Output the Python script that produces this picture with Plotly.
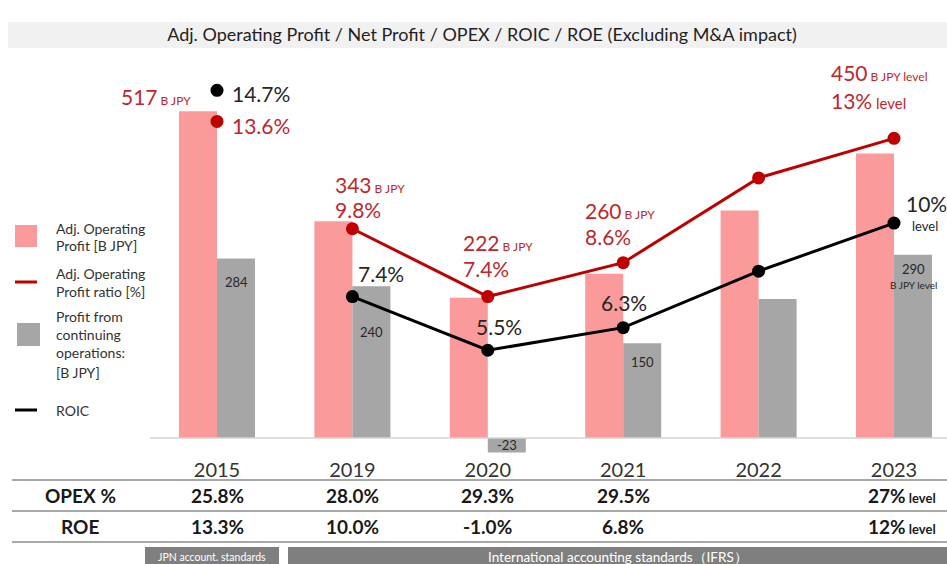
import plotly.graph_objects as go

# ---- data -------------------------------------------------------------
years = ["2015", "2019", "2020", "2021", "2022", "2023"]
adj_op_profit = [517, 343, 222, 260, 360, 450]          # B JPY
profit_continuing = [284, 240, -23, 150, 220, 290]      # B JPY
adj_op_ratio = [13.6, 9.8, 7.4, 8.6, 11.6, 13.0]        # %
roic = [14.7, 7.4, 5.5, 6.3, 8.3, 10.0]                 # %
opex_pct = ["25.8%", "28.0%", "29.3%", "29.5%", "", "27%"]
roe_pct = ["13.3%", "10.0%", "-1.0%", "6.8%", "", "12%"]
level_flags = [False, False, False, False, False, True]  # target-year values
on_trend = [False, True, True, True, True, True]         # 2015 sits apart (JPN GAAP)

# ---- styling ----------------------------------------------------------
W, H = 947, 564
ML, MR, MT, MB = 140, 0, 62, 108
PW, PH = W - ML - MR, H - MT - MB
FONT = "Lato"
PINK = "#fa9a9a"
GREY = "#a6a6a6"
RED = "#c00000"
RED_TXT = "#c0272d"
DARK = "#262626"
BIG = 21


def px(xp):
    """horizontal pixel -> paper coordinate"""
    return (xp - ML) / PW


def py(yp):
    """vertical pixel -> paper coordinate"""
    return (H - MB - yp) / PH


def split(vals):
    trend = [v if t else None for v, t in zip(vals, on_trend)]
    apart = [None if t else v for v, t in zip(vals, on_trend)]
    return trend, apart


fig = go.Figure()

fig.add_trace(go.Bar(x=years, y=adj_op_profit, marker_color=PINK,
                     marker_line_width=0, name="Adj. Operating Profit [B JPY]"))
fig.add_trace(go.Bar(x=years, y=profit_continuing, marker_color=GREY,
                     marker_line_width=0,
                     name="Profit from continuing operations: [B JPY]"))

for vals, col, nm in ((adj_op_ratio, RED, "Adj. Operating Profit ratio [%]"),
                      (roic, "black", "ROIC")):
    trend, apart = split(vals)
    fig.add_trace(go.Scatter(x=years, y=trend, yaxis="y2", mode="lines+markers",
                             line=dict(color=col, width=3), connectgaps=False,
                             marker=dict(color=col, size=13), name=nm))
    fig.add_trace(go.Scatter(x=years, y=apart, yaxis="y2", mode="markers",
                             marker=dict(color=col, size=13), name=nm,
                             showlegend=False))

ann = []
shapes = []


def small(t, size):
    return f"<span style='font-size:{size}px'>{t}</span>"


# operating profit value + ratio labels (x offset, value-line lift, ratio-line lift)
red_lab = {1: (-19, 44, 19), 2: (-27, 54, 28), 3: (-40, 52, 26), 5: (-65, 66, 38)}
for i, (v, r) in enumerate(zip(adj_op_profit, adj_op_ratio)):
    if i == 0:
        ann.append(dict(x=i, y=v, xref="x", yref="y", xshift=-24, yshift=15,
                        xanchor="right", yanchor="middle", showarrow=False,
                        text=f"{v}" + small(" B JPY", 12),
                        font=dict(size=BIG, color=RED_TXT)))
        ann.append(dict(x=i, y=r, xref="x", yref="y2", xshift=13, yshift=-4,
                        xanchor="left", yanchor="middle", showarrow=False,
                        text=f"{r:.1f}%", font=dict(size=BIG, color=RED_TXT)))
        continue
    if i not in red_lab:
        continue
    dx, dv, dr = red_lab[i]
    lvl = level_flags[i]
    vt = f"{v}" + small(" B JPY" + (" level" if lvl else ""), 12)
    rt = (f"{r:.0f}%" + small(" level", 15)) if lvl else f"{r:.1f}%"
    ann.append(dict(x=i, y=r, xref="x", yref="y2", xshift=dx, yshift=dv,
                    xanchor="left", yanchor="middle", showarrow=False,
                    text=vt, font=dict(size=BIG, color=RED_TXT)))
    ann.append(dict(x=i, y=r, xref="x", yref="y2", xshift=dx, yshift=dr,
                    xanchor="left", yanchor="middle", showarrow=False,
                    text=rt, font=dict(size=BIG, color=RED_TXT)))

# ROIC labels
ann.append(dict(x=0, y=roic[0], xref="x", yref="y2", xshift=13, yshift=-3,
                xanchor="left", yanchor="middle", showarrow=False,
                text=f"{roic[0]:.1f}%", font=dict(size=BIG, color=DARK)))
roic_off = {1: (29, 23), 2: (11, 24), 3: (1, 25)}
for i, (dx, dy) in roic_off.items():
    ann.append(dict(x=i, y=roic[i], xref="x", yref="y2", xshift=dx, yshift=dy,
                    xanchor="center", yanchor="middle", showarrow=False,
                    text=f"{roic[i]:.1f}%", font=dict(size=BIG, color=DARK)))
ann.append(dict(x=5, y=roic[5], xref="x", yref="y2", xshift=10, yshift=20,
                xanchor="left", yanchor="middle", showarrow=False,
                text=f"{roic[5]:.0f}%", font=dict(size=BIG, color=DARK)))
ann.append(dict(x=5, y=roic[5], xref="x", yref="y2", xshift=31, yshift=-3,
                xanchor="center", yanchor="middle", showarrow=False,
                text="level", font=dict(size=13, color=DARK)))

# profit-from-continuing-operations labels inside the grey bars
grey_dy = {0: -23, 1: -46, 2: 8, 3: -19, 5: -14}
for i, dy in grey_dy.items():
    v = profit_continuing[i]
    ann.append(dict(x=i, y=v, xref="x", yref="y", xshift=19, yshift=dy,
                    xanchor="center", yanchor="middle", showarrow=False,
                    text=f"{v}", font=dict(size=13, color=DARK)))
ann.append(dict(x=5, y=profit_continuing[5], xref="x", yref="y", xshift=19,
                yshift=-30, xanchor="center", yanchor="middle", showarrow=False,
                text="B JPY level", font=dict(size=10, color=DARK)))

# zero line of the bar axis
shapes.append(dict(type="line", xref="paper", yref="y", x0=px(150), x1=1,
                   y0=0, y1=0, line=dict(color="#d4d4d4", width=1.5)))

# title band
shapes.append(dict(type="rect", xref="paper", yref="paper", x0=px(8), x1=px(947),
                   y0=py(48), y1=py(22), fillcolor="#f1f1f1", line_width=0,
                   layer="below"))

# legend
leg_txt = dict(size=14, color="#333333")
shapes.append(dict(type="rect", xref="paper", yref="paper", x0=px(15), x1=px(37),
                   y0=py(247), y1=py(225), fillcolor=PINK, line_width=0))
shapes.append(dict(type="line", xref="paper", yref="paper", x0=px(15), x1=px(37),
                   y0=py(282), y1=py(282), line=dict(color=RED, width=3)))
shapes.append(dict(type="rect", xref="paper", yref="paper", x0=px(17), x1=px(40),
                   y0=py(346), y1=py(323), fillcolor=GREY, line_width=0))
shapes.append(dict(type="line", xref="paper", yref="paper", x0=px(15), x1=px(37),
                   y0=py(410), y1=py(410), line=dict(color="black", width=3)))
legend_rows = [
    (228, "Adj. Operating"), (245, "Profit [B JPY]"),
    (273, "Adj. Operating"), (291, "Profit ratio [%]"),
    (316, "Profit from"), (334, "continuing"), (352, "operations:"),
    (372, "[B JPY]"), (410, "ROIC"),
]
for yy, t in legend_rows:
    ann.append(dict(x=px(54), y=py(yy), xref="paper", yref="paper",
                    xanchor="left", yanchor="middle", showarrow=False,
                    text=t, font=leg_txt))

# table under the chart
for yy in (480, 511, 542):
    shapes.append(dict(type="line", xref="paper", yref="paper", x0=px(12), x1=1,
                       y0=py(yy), y1=py(yy), line=dict(color="#a9a9a9", width=2)))
tbl_font = dict(size=19, color="#1a1a1a")
for yy, lab, vals in ((495, "OPEX %", opex_pct), (526, "ROE", roe_pct)):
    ann.append(dict(x=px(80), y=py(yy), xref="paper", yref="paper",
                    xanchor="center", yanchor="middle", showarrow=False,
                    text=f"<b>{lab}</b>", font=tbl_font))
    for i, v in enumerate(vals):
        if not v:
            continue
        t = f"<b>{v}</b>" + (small("<b> level</b>", 13) if level_flags[i] else "")
        ann.append(dict(x=i, y=py(yy), xref="x", yref="paper",
                        xanchor="center", yanchor="middle", showarrow=False,
                        xshift=8 if level_flags[i] else 0,
                        text=t, font=tbl_font))

# accounting-standard bands
shapes.append(dict(type="rect", xref="paper", yref="paper", x0=px(145), x1=px(279),
                   y0=py(566), y1=py(547), fillcolor="#7f7f7f", line_width=0))
shapes.append(dict(type="rect", xref="paper", yref="paper", x0=px(288), x1=1,
                   y0=py(566), y1=py(547), fillcolor="#7f7f7f", line_width=0))
ann.append(dict(x=px(212), y=py(557), xref="paper", yref="paper", showarrow=False,
                xanchor="center", yanchor="middle", text="JPN account. standards",
                font=dict(size=10.5, color="white")))
ann.append(dict(x=px(618), y=py(557), xref="paper", yref="paper", showarrow=False,
                xanchor="center", yanchor="middle",
                text="International accounting standards（IFRS）",
                font=dict(size=13.5, color="white")))

# axis scales: bars 0.632 px per B JPY, ratios 28.25 px per %
bar_px = 0.632
zero_y = 438
y_top = (zero_y - MT) / bar_px
y_bot = -(H - MB - zero_y) / bar_px
pct_px = 28.25
pct_zero = 505.6
y2_top = (pct_zero - MT) / pct_px
y2_bot = (pct_zero - (H - MB)) / pct_px
cat_px = 135.4
cat0 = 217

fig.update_layout(
    width=W, height=H,
    margin=dict(l=ML, r=MR, t=MT, b=MB, pad=0),
    paper_bgcolor="white", plot_bgcolor="white",
    font=dict(family=FONT, color=DARK),
    showlegend=False,
    barmode="group", bargap=1 - 2 * 38 / cat_px, bargroupgap=0,
    title=dict(text="Adj. Operating Profit / Net Profit / OPEX / ROIC / ROE (Excluding M&A impact)",
               x=482 / W, xanchor="center", y=1 - 35 / H, yanchor="middle",
               font=dict(family=FONT, size=18, color="#1f1f1f")),
    xaxis=dict(type="category", range=[(ML - cat0) / cat_px, (W - MR - cat0) / cat_px],
               showgrid=False, zeroline=False, showline=False, ticks="",
               tickfont=dict(size=20, color="#333333"), fixedrange=True),
    yaxis=dict(range=[y_bot, y_top], visible=False, fixedrange=True),
    yaxis2=dict(range=[y2_bot, y2_top], overlaying="y", visible=False,
                fixedrange=True),
    annotations=ann, shapes=shapes,
)

fig.write_html("out.html")
